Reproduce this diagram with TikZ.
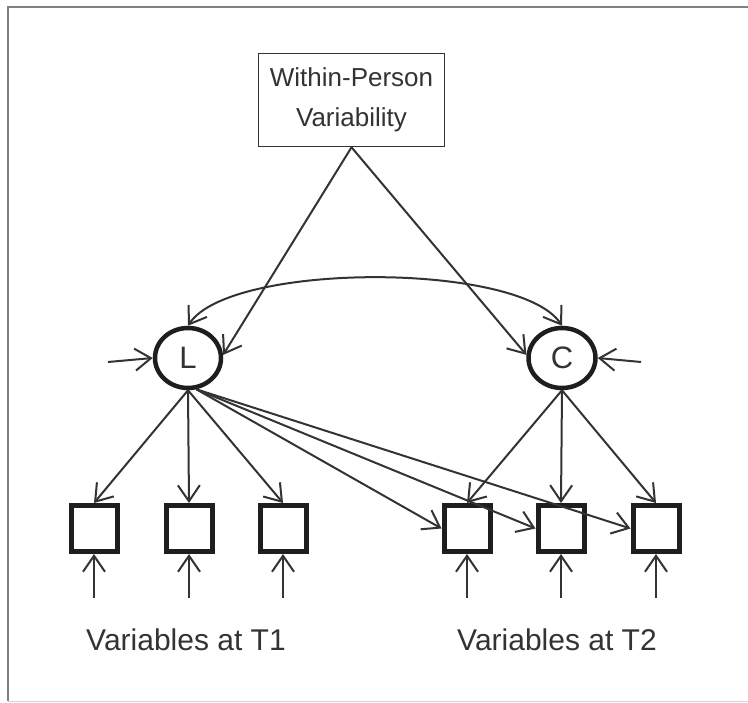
\documentclass[tikz,border=0pt]{standalone}
\usepackage{fontspec}
\setmainfont{Liberation Sans}
\usetikzlibrary{arrows.meta,shapes.geometric}
\definecolor{ink}{HTML}{333333}
\definecolor{thick}{HTML}{1E1E1E}
\begin{document}
\begin{tikzpicture}[x=1pt,y=-1pt,
  >={Straight Barb[length=16pt,width=22pt]},
  conn/.style={draw=ink, line width=2pt, ->},
  latent/.style={ellipse, draw=thick, line width=4.5pt, inner sep=0pt, font=\fontsize{31}{34}\selectfont, text=ink},
  manifest/.style={rectangle, draw=thick, line width=5pt, minimum size=46pt, inner sep=0pt},
  lab/.style={font=\fontsize{30}{34}\selectfont, text=ink}]
\useasboundingbox (0,0) rectangle (748,703);
\draw[gray, line width=1.6pt] (748,7) -- (8,7) -- (8,701);
\draw[gray!35, line width=1pt] (8,701) -- (748,701);

\node[draw=ink, line width=1.6pt, minimum width=186pt, minimum height=93pt, align=center,
      text=ink, font=\fontsize{26}{40}\selectfont] (wp) at (351.5,100) {Within-Person\\Variability};

\node[latent, minimum width=66pt, minimum height=60pt] (L) at (188,358) {L};
\node[latent, minimum width=67pt, minimum height=60pt] (C) at (562,358) {C};

\foreach \i/\x in {1/94,2/189,3/283,4/467,5/561,6/656}{
  \node[manifest] (s\i) at (\x,528.5) {};
  \coordinate (e\i) at (\x,598);
  \draw[conn] (e\i) -- (s\i.south);
}

\coordinate (eL) at (108,362);
\coordinate (eC) at (641,362);
\draw[conn] (eL) -- (L.west);
\draw[conn] (eC) -- (C.east);

\draw[conn] (wp.south) -- (L.5);
\draw[conn] (wp.south) -- (C.175);

\draw[draw=ink, line width=2pt, <->]
  (L.north) .. controls +(42,-64) and +(-42,-64) .. (C.north);

\draw[conn] (L.south) -- (s1.north);
\draw[conn] (L.south) -- (s2.north);
\draw[conn] (L.south) -- (s3.north);
\draw[conn] (L.-75) -- (s4.west);
\draw[conn] (L.-75) -- (s5.west);
\draw[conn] (L.-75) -- (s6.west);

\draw[conn] (C.south) -- (s4.north);
\draw[conn] (C.south) -- (s5.north);
\draw[conn] (C.south) -- (s6.north);

\node[lab] (t1) at (186,640) {Variables at T1};
\node[lab] (t2) at (557,640) {Variables at T2};
\end{tikzpicture}
\end{document}
